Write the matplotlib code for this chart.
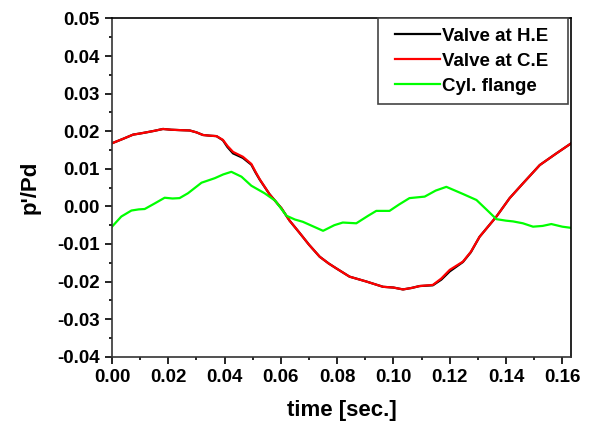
import numpy as np
import matplotlib.pyplot as plt
from matplotlib.legend_handler import HandlerLine2D

plt.rcParams['font.family'] = ['Liberation Sans', 'DejaVu Sans']
plt.rcParams['font.weight'] = 'bold'

#------------------------------------------------------------------------
# pressure fluctuation p'/Pd vs time
t_he = [0.000, 0.0040, 0.0075, 0.0100, 0.0122, 0.0150, 0.0181, 0.0210, 0.0240,
        0.0276, 0.0300, 0.0323, 0.0350, 0.0371, 0.0394, 0.0410, 0.0430, 0.0465,
        0.0495, 0.0510, 0.0525, 0.0560, 0.0602, 0.0631, 0.0667, 0.0700, 0.0738,
        0.0770, 0.0797, 0.0844, 0.0904, 0.0963, 0.1000, 0.1034, 0.1065, 0.1093,
        0.1140, 0.1170, 0.1200, 0.1247, 0.1275, 0.1306, 0.1366, 0.1413, 0.1460,
        0.1520, 0.1579, 0.1630]
p_he = [0.0168, 0.0180, 0.0191, 0.0194, 0.0197, 0.0201, 0.0206, 0.0204, 0.0203,
        0.0202, 0.0197, 0.0190, 0.0188, 0.0187, 0.0176, 0.0158, 0.0141, 0.0129,
        0.0111, 0.0090, 0.0071, 0.0032, -0.0005, -0.0038, -0.0071, -0.0102, -0.0134,
        -0.0152, -0.0165, -0.0187, -0.0200, -0.0214, -0.0216, -0.0221, -0.0217, -0.0212,
        -0.0210, -0.0195, -0.0173, -0.0148, -0.0122, -0.0081, -0.0027, 0.0022, 0.0061,
        0.0110, 0.0141, 0.0167]

t_ce = t_he
p_ce = [0.0168, 0.0180, 0.0191, 0.0194, 0.0197, 0.0201, 0.0206, 0.0204, 0.0203,
        0.0202, 0.0197, 0.0190, 0.0188, 0.0187, 0.0177, 0.0161, 0.0145, 0.0132,
        0.0113, 0.0092, 0.0072, 0.0032, -0.0005, -0.0038, -0.0071, -0.0102, -0.0134,
        -0.0152, -0.0165, -0.0187, -0.0200, -0.0214, -0.0216, -0.0221, -0.0217, -0.0212,
        -0.0209, -0.0192, -0.0169, -0.0147, -0.0121, -0.0081, -0.0027, 0.0022, 0.0061,
        0.0110, 0.0141, 0.0167]

t_cyl = [0.000, 0.0033, 0.0069, 0.0095, 0.0116, 0.0152, 0.0187, 0.0215, 0.0240,
         0.0270, 0.0318, 0.0365, 0.0395, 0.0424, 0.0460, 0.0495, 0.0542, 0.0580,
         0.0620, 0.0650, 0.0678, 0.0720, 0.0750, 0.0790, 0.0820, 0.0868, 0.0910,
         0.0939, 0.0986, 0.1020, 0.1057, 0.1111, 0.1150, 0.1188, 0.1247, 0.1295,
         0.1330, 0.1366, 0.1400, 0.1425, 0.1460, 0.1496, 0.1530, 0.1561, 0.1600,
         0.1630]
p_cyl = [-0.0054, -0.0027, -0.0011, -0.0008, -0.0007, 0.0008, 0.0023, 0.0021, 0.0022,
         0.0035, 0.0063, 0.0075, 0.0085, 0.0092, 0.0079, 0.0055, 0.0035, 0.0015,
         -0.0025, -0.0035, -0.0041, -0.0055, -0.0065, -0.0050, -0.0043, -0.0045, -0.0025,
         -0.0012, -0.0012, 0.0005, 0.0022, 0.0026, 0.0042, 0.0052, 0.0033, 0.0017,
         -0.0008, -0.0034, -0.0038, -0.0040, -0.0045, -0.0054, -0.0052, -0.0047, -0.0054,
         -0.0057]

labels = ['Valve at H.E', 'Valve at C.E', 'Cyl. flange']
xticks = np.arange(0.0, 0.161, 0.02)
yticks = np.arange(-0.04, 0.0501, 0.01)
#------------------------------------------------------------------------
fig = plt.figure(figsize=(5.94, 4.28), dpi=100)
ax = fig.add_axes([0.1886, 0.1666, 0.7727, 0.7902])

ax.plot(t_he, p_he, color='black', linewidth=1.6, label=labels[0])
ax.plot(t_ce, p_ce, color='#ff0000', linewidth=1.6, label=labels[1])
ax.plot(t_cyl, p_cyl, color='#00ff00', linewidth=1.6, label=labels[2])

ax.set_xlim(0.0, 0.1631)
ax.set_ylim(-0.04, 0.05)
ax.set_xticks(xticks)
ax.set_xticklabels(['%.2f' % v for v in xticks])
ax.set_yticks(yticks)
ax.set_yticklabels(['%.2f' % (0.0 if abs(v) < 1e-9 else v) for v in yticks])
ax.set_xticks(np.arange(0.01, 0.17, 0.02), minor=True)
ax.set_yticks(np.arange(-0.035, 0.05, 0.01), minor=True)

ax.tick_params(which='major', direction='out', length=5, width=1.2, labelsize=13.5, pad=4)
ax.tick_params(which='minor', direction='out', length=2.5, width=1.2)
ax.tick_params(top=False, right=False)
for s in ax.spines.values():
    s.set_linewidth(1.2)
ax.spines['left'].set_color('#333333')
ax.spines['bottom'].set_color('#333333')

ax.set_xlabel('time [sec.]', fontsize=16, fontweight='bold', labelpad=10)
ax.set_ylabel("p'/Pd", fontsize=16, fontweight='bold', labelpad=12)

# legend box stretched to a fixed width, handle shifted in from the left edge
leg = ax.legend(loc='upper right', bbox_to_anchor=(0.579, 0.0, 0.415, 1.0), mode='expand',
                fontsize=13.5, handlelength=2.8, handletextpad=0.1, labelspacing=0.42,
                borderpad=0.5, borderaxespad=0, fancybox=False, framealpha=1,
                handler_map={plt.Line2D: HandlerLine2D(xpad=0.4)})
leg.get_frame().set_edgecolor('#444444')
leg.get_frame().set_linewidth(1.2)

plt.savefig('out.png', dpi=100)
plt.close()
